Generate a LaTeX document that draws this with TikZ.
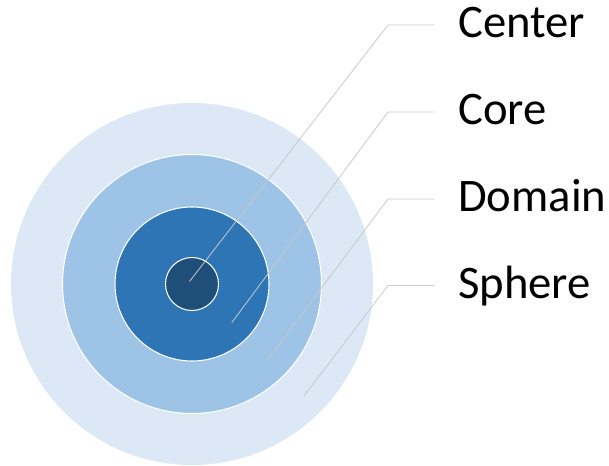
\documentclass[tikz,border=0pt]{standalone}
\usepackage{fontspec}
\setmainfont{Carlito}
\begin{document}
\begin{tikzpicture}[x=0.75pt,y=-0.75pt,
  ring/.style={draw=white,line width=0.8pt},
  leader/.style={draw=leadergray,line width=0.6pt},
  label/.style={anchor=base west,inner sep=0pt,font=\fontsize{35}{42}\selectfont}]
\definecolor{sphereblue}{HTML}{DCE8F5}
\definecolor{domainblue}{HTML}{9DC3E6}
\definecolor{coreblue}{HTML}{2E75B6}
\definecolor{centerblue}{HTML}{1F4E79}
\definecolor{leadergray}{HTML}{C9C9C9}
\useasboundingbox (0,0) rectangle (609,466);

% concentric layers
\coordinate (mid) at (192,284);
\fill[sphereblue] (mid) circle[radius=181];
\filldraw[ring,fill=domainblue] (mid) circle[radius=129.5];
\filldraw[ring,fill=coreblue] (mid) circle[radius=77];
\filldraw[ring,fill=centerblue] (mid) circle[radius=26.5];

% labels
\node[label] (lcenter) at (458,38) {Center};
\node[label] (lcore)   at (458,125) {Core};
\node[label] (ldomain) at (458,212) {Domain};
\node[label] (lsphere) at (458,298) {Sphere};

% leader anchors: point inside each layer, elbow, and line end
\coordinate (pcenter) at (189.5,281.5);
\coordinate (pcore)   at (231.7,322.7);
\coordinate (pdomain) at (268.3,359);
\coordinate (psphere) at (304,396);
\coordinate (ecenter) at (388,25);
\coordinate (ecore)   at (388,112);
\coordinate (edomain) at (388,199);
\coordinate (esphere) at (388,285.5);
\coordinate (tcenter) at (434,25);
\coordinate (tcore)   at (434,112);
\coordinate (tdomain) at (434,199);
\coordinate (tsphere) at (434,285.5);

\draw[leader] (pcenter) -- (ecenter) -- (tcenter);
\draw[leader] (pcore) -- (ecore) -- (tcore);
\draw[leader] (pdomain) -- (edomain) -- (tdomain);
\draw[leader] (psphere) -- (esphere) -- (tsphere);
\end{tikzpicture}
\end{document}
